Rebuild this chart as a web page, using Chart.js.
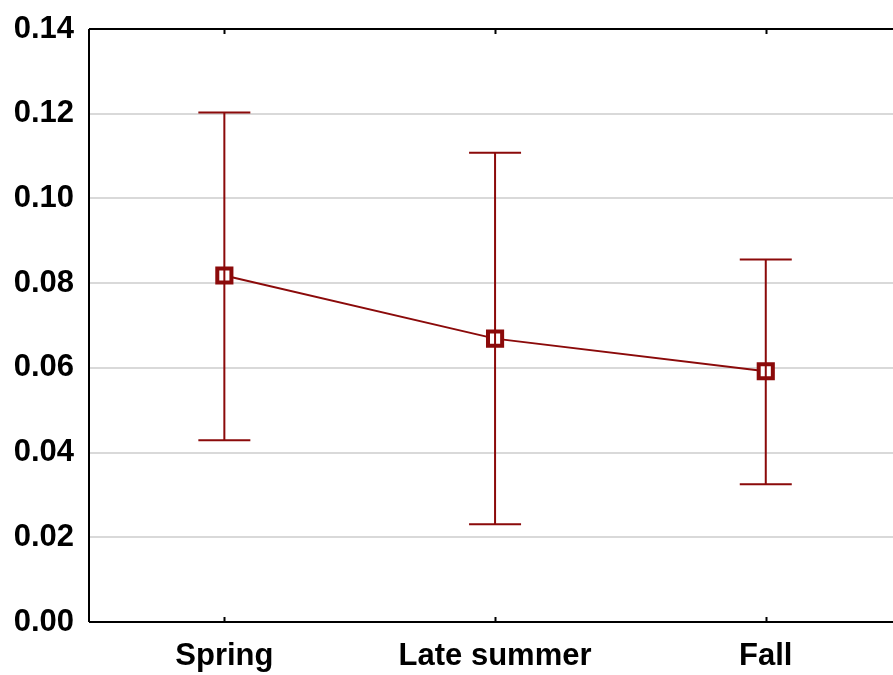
<!DOCTYPE html>
<html>
<head>
<meta charset="utf-8">
<script src="https://cdn.jsdelivr.net/npm/chart.js@4.4.0/dist/chart.umd.min.js"></script>
<style>
  html, body { margin: 0; padding: 0; background: #fff; overflow: hidden; }
  #wrap { width: 893px; height: 675px; }
</style>
</head>
<body>
<div id="wrap"><canvas id="seasonChart"></canvas></div>
<script>
// values
const categories = ['Spring', 'Late summer', 'Fall'];
const means = [0.0818, 0.0669, 0.0592];
const upper = [0.1203, 0.1108, 0.0856];
const lower = [0.0429, 0.0231, 0.0325];
const yTicks = [0, 0.02, 0.04, 0.06, 0.08, 0.10, 0.12, 0.14];

const red = '#8b0a0a';

// error bars + frame
const errorBars = {
    id: 'errorBars',
    afterDatasetsDraw(chart) {
        const ctx = chart.ctx;
        const x = chart.scales.x, y = chart.scales.y;
        ctx.save();
        ctx.strokeStyle = red;
        ctx.lineWidth = 2;
        for (let i = 0; i < means.length; i++) {
            const px = x.getPixelForValue(i);
            const top = y.getPixelForValue(upper[i]);
            const bot = y.getPixelForValue(lower[i]);
            ctx.beginPath();
            ctx.moveTo(px, top); ctx.lineTo(px, bot);
            ctx.moveTo(px - 26, top); ctx.lineTo(px + 26, top);
            ctx.moveTo(px - 26, bot); ctx.lineTo(px + 26, bot);
            ctx.stroke();
        }
        // axes frame
        const a = chart.chartArea;
        ctx.strokeStyle = '#000';
        ctx.lineWidth = 2;
        ctx.beginPath();
        ctx.moveTo(a.left, a.top); ctx.lineTo(a.right, a.top);
        ctx.moveTo(a.left, a.top); ctx.lineTo(a.left, a.bottom);
        ctx.moveTo(a.left, a.bottom); ctx.lineTo(a.right, a.bottom);
        for (let i = 0; i < categories.length; i++) {
            const px = Math.round(x.getPixelForValue(i)) + 0.5;
            ctx.moveTo(px, a.top); ctx.lineTo(px, a.top + 5);
            ctx.moveTo(px, a.bottom); ctx.lineTo(px, a.bottom - 5);
        }
        ctx.stroke();
        ctx.restore();
    }
};

const ctx = document.getElementById('seasonChart');

new Chart(ctx, {
    type: 'line',
    data: {
        datasets: [{
            data: means.map((v, i) => ({ x: i, y: v })),
            borderColor: red,
            borderWidth: 2,
            backgroundColor: '#fff',
            pointStyle: 'rect',
            pointRadius: 10,
            pointBorderWidth: 4,
            pointBorderColor: red,
            pointBackgroundColor: '#fff',
            tension: 0
        }]
    },
    options: {
        responsive: true,
        maintainAspectRatio: false,
        animation: false,
        layout: { autoPadding: false, padding: { top: 29, right: 0, left: 0, bottom: 0 } },
        plugins: { legend: { display: false }, tooltip: { enabled: false } },
        scales: {
            x: {
                type: 'linear',
                min: -0.5,
                max: 2.47,
                afterBuildTicks(scale) {
                    scale.ticks = categories.map((c, i) => ({ value: i }));
                },
                afterFit(scale) {
                    scale.height = 53;
                    scale.paddingLeft = 0; scale.paddingRight = 0;
                    scale.paddingTop = 0; scale.paddingBottom = 0;
                },
                grid: { display: false },
                border: { display: false },
                ticks: {
                    callback: (v) => categories[v] ?? '',
                    color: '#000',
                    font: { family: "'Liberation Sans', Arial, sans-serif", size: 31, weight: 'bold' },
                    padding: 8,
                    maxRotation: 0
                }
            },
            y: {
                min: 0,
                max: 0.14,
                afterBuildTicks(scale) {
                    scale.ticks = yTicks.map(v => ({ value: v }));
                },
                afterFit(scale) {
                    scale.width = 89;
                    scale.paddingLeft = 0; scale.paddingRight = 0;
                    scale.paddingTop = 0; scale.paddingBottom = 0;
                },
                grid: { color: '#d9d9d9', lineWidth: 2, drawTicks: false },
                border: { display: false },
                ticks: {
                    callback: (v) => v.toFixed(2),
                    color: '#000',
                    font: { family: "'Liberation Sans', Arial, sans-serif", size: 31, weight: 'bold' },
                    padding: 15
                }
            }
        }
    },
    plugins: [errorBars]
});
</script>
</body>
</html>
